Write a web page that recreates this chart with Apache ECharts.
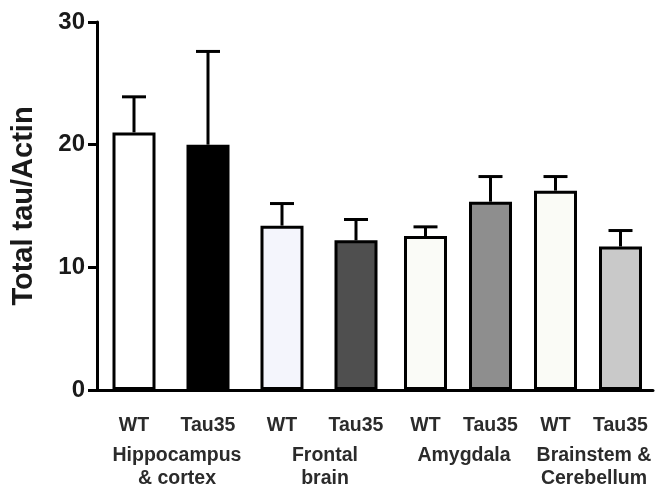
<!DOCTYPE html>
<html>
<head>
<meta charset="utf-8">
<script src="https://cdn.jsdelivr.net/npm/echarts@6/dist/echarts.min.js"></script>
<style>
  html, body { margin: 0; padding: 0; background: #fff; }
  #chart { width: 661px; height: 495px; }
</style>
</head>
<body>
<div id="chart"></div>
<script>
// data
const genotypes = ['WT', 'Tau35', 'WT', 'Tau35', 'WT', 'Tau35', 'WT', 'Tau35']
const regions = ['Hippocampus\n& cortex', 'Frontal\nbrain', 'Amygdala', 'Brainstem &\nCerebellum']
const means = [21.0, 20.0, 13.4, 12.2, 12.55, 15.35, 16.25, 11.7]
const errors = [2.9, 7.6, 1.8, 1.7, 0.75, 2.05, 1.15, 1.3]
const yTicks = [0, 10, 20, 30]

// bar fills
const fills = ['#ffffff', '#000000', '#f4f5fc', '#4f4f4f', '#fafbf7', '#8e8e8e', '#fafbf6', '#c9c9c9']

const font = "'Liberation Sans', Arial, sans-serif"
const chart = echarts.init(document.getElementById('chart'))

const grids = [
  { left: 97, width: 296, top: 22, bottom: 105 },
  { left: 393, width: 260, top: 22, bottom: 105 }
]

const xAxes = []
const yAxes = []
const series = []

grids.forEach((g, gi) => {
  const cats = genotypes.slice(gi * 4, gi * 4 + 4)
  xAxes.push({
    type: 'category',
    gridIndex: gi,
    data: cats,
    axisLine: { lineStyle: { color: '#000', width: 3 } },
    axisTick: { alignWithLabel: true, length: 9, lineStyle: { color: '#000', width: 3 } },
    axisLabel: { interval: 0, margin: 26, color: '#2b2b2b', fontSize: 19.5, fontWeight: 'bold', fontFamily: font }
  })
  xAxes.push({
    type: 'category',
    gridIndex: gi,
    position: 'bottom',
    data: regions.slice(gi * 2, gi * 2 + 2),
    axisLine: { show: false },
    axisTick: { show: false },
    axisLabel: { interval: 0, margin: 54, color: '#2b2b2b', fontSize: 19.5, fontWeight: 'bold', lineHeight: 23, fontFamily: font, padding: [0, 0, 0, 12] }
  })
  yAxes.push({
    type: 'value',
    gridIndex: gi,
    show: gi === 0,
    min: yTicks[0],
    max: yTicks[yTicks.length - 1],
    interval: 10,
    name: gi === 0 ? 'Total tau/Actin' : '',
    nameLocation: 'middle',
    nameGap: 59,
    nameTextStyle: { fontSize: 29, fontWeight: 'bold', color: '#1a1a1a', fontFamily: font },
    splitLine: { show: false },
    axisLine: { show: true, lineStyle: { color: '#000', width: 3 } },
    axisTick: { show: true, length: 9, lineStyle: { color: '#000', width: 3 } },
    axisLabel: { margin: 12, color: '#1a1a1a', fontSize: 24, fontWeight: 'bold', fontFamily: font }
  })

  const idx = [0, 1, 2, 3].map(i => gi * 4 + i)
  series.push({
    type: 'bar',
    xAxisIndex: gi * 2,
    yAxisIndex: gi,
    barWidth: 43,
    data: idx.map(k => ({
      value: means[k],
      itemStyle: { color: fills[k], borderColor: '#000', borderWidth: 3 }
    }))
  })
  series.push({
    type: 'custom',
    xAxisIndex: gi * 2,
    yAxisIndex: gi,
    z: 1,
    data: idx.map((k, i) => [i, means[k], means[k] + errors[k]]),
    renderItem: (params, api) => {
      const base = api.coord([api.value(0), api.value(1)])
      const top = api.coord([api.value(0), api.value(2)])
      const half = 12
      const style = { stroke: '#000', lineWidth: 3 }
      return {
        type: 'group',
        children: [
          { type: 'line', shape: { x1: top[0], y1: base[1], x2: top[0], y2: top[1] }, style },
          { type: 'line', shape: { x1: top[0] - half, y1: top[1], x2: top[0] + half, y2: top[1] }, style }
        ]
      }
    }
  })
})

chart.setOption({
  backgroundColor: '#ffffff',
  animation: false,
  grid: grids,
  xAxis: xAxes,
  yAxis: yAxes,
  series: series
})
</script>
</body>
</html>
